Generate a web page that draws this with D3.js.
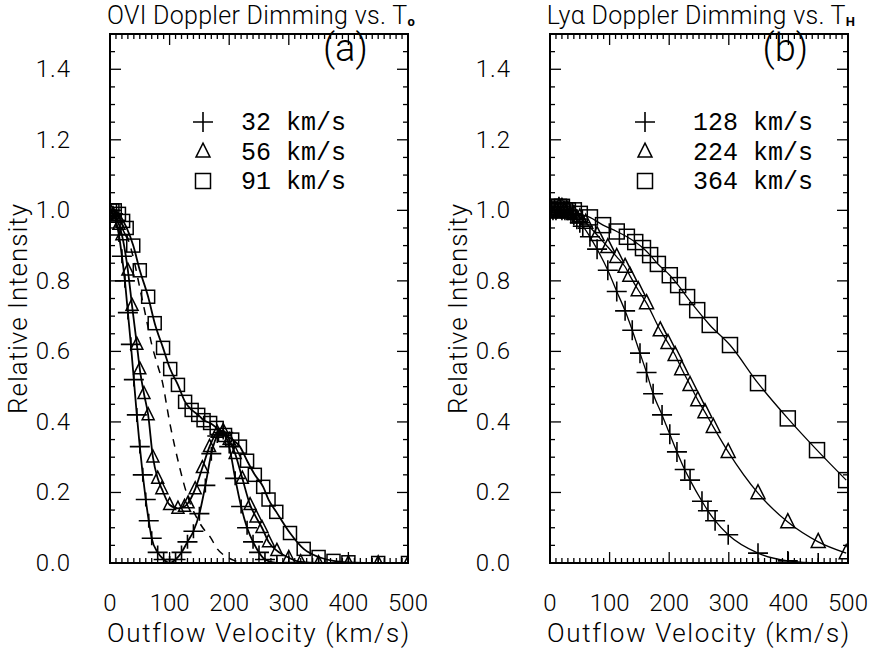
<!DOCTYPE html>
<html><head><meta charset="utf-8">
<script src="https://cdn.jsdelivr.net/npm/d3@7"></script>
<style>
html,body{margin:0;padding:0;background:#fff;}
svg{display:block;}
</style></head>
<body>
<svg id="chart" width="876" height="650"></svg>
<script>
// ---------------- DATA ----------------
const velocityTicks = [0, 100, 200, 300, 400, 500];
const intensityTicks = [0.0, 0.2, 0.4, 0.6, 0.8, 1.0, 1.2, 1.4];

// Panel (a): OVI, T_O thermal widths
const legendA = ["32 km/s", "56 km/s", "91 km/s"];
const aPlusV = [0, 5, 10, 15, 20, 25, 30, 35, 40, 45, 50, 55, 60, 65, 70, 80, 90, 100, 110, 120, 130, 140, 150, 160, 170, 180, 190, 200, 210, 220, 230, 240, 250, 260, 280, 300, 350, 400, 450, 500];
const aPlusI = [1.0, 0.99, 0.97, 0.93, 0.87, 0.80, 0.71, 0.62, 0.52, 0.42, 0.33, 0.25, 0.18, 0.12, 0.07, 0.03, 0.01, 0.0, 0.01, 0.03, 0.06, 0.09, 0.14, 0.22, 0.31, 0.36, 0.37, 0.33, 0.24, 0.16, 0.10, 0.06, 0.03, 0.01, 0.0, 0.0, 0.0, 0.0, 0.0, 0.0];
const aTriV = [0, 5, 10, 15, 20, 30, 37, 45, 50, 57, 64, 72, 80, 87, 100, 114, 125, 131, 143, 155, 167, 180, 190, 200, 210, 222, 235, 245, 255, 266, 280, 300, 320, 350, 400, 450, 500];
const aTriI = [1.0, 0.99, 0.98, 0.96, 0.93, 0.83, 0.73, 0.62, 0.55, 0.48, 0.42, 0.30, 0.24, 0.21, 0.165, 0.155, 0.16, 0.17, 0.21, 0.27, 0.33, 0.37, 0.375, 0.35, 0.31, 0.24, 0.165, 0.13, 0.10, 0.06, 0.035, 0.015, 0.003, 0.0, 0.0, 0.0, 0.0];
const aSqV = [0, 4, 8, 15, 22, 28, 39, 50, 64, 75, 89, 101, 114, 126, 137, 148, 157, 168, 179, 193, 205, 218, 230, 243, 257, 266, 279, 302, 325, 350, 375, 400, 450, 500];
const aSqI = [1.0, 1.0, 1.0, 0.99, 0.97, 0.95, 0.90, 0.83, 0.755, 0.68, 0.61, 0.55, 0.505, 0.457, 0.434, 0.42, 0.405, 0.397, 0.383, 0.363, 0.35, 0.33, 0.29, 0.25, 0.216, 0.18, 0.145, 0.085, 0.04, 0.017, 0.006, 0.002, 0.0, 0.0];
const aDashV = [0, 10, 20, 30, 40, 50, 60, 70, 80, 87, 100, 117, 130, 145, 160, 168, 180, 196, 210, 230, 260];
const aDashI = [1.0, 0.99, 0.96, 0.92, 0.86, 0.78, 0.70, 0.62, 0.56, 0.52, 0.40, 0.27, 0.19, 0.13, 0.09, 0.074, 0.04, 0.017, 0.006, 0.0, 0.0];

// Panel (b): Lyα, T_H thermal widths
const legendB = ["128 km/s", "224 km/s", "364 km/s"];
const bPlusV = [0, 5, 10, 15, 20, 25, 30, 35, 40, 45, 50, 55, 67, 79, 97, 112, 126, 138, 151, 162, 173, 188, 201, 213, 226, 235, 255, 265, 277, 299, 349, 399, 450, 500];
const bPlusI = [1.0, 1.0, 1.0, 1.01, 1.0, 1.0, 1.0, 0.99, 0.985, 0.975, 0.965, 0.955, 0.925, 0.89, 0.83, 0.77, 0.715, 0.66, 0.595, 0.54, 0.48, 0.42, 0.365, 0.315, 0.265, 0.235, 0.175, 0.148, 0.12, 0.08, 0.028, 0.006, 0.0, 0.0];
const bTriV = [0, 5, 10, 15, 20, 25, 30, 40, 50, 60, 79, 97, 112, 126, 134, 148, 162, 185, 198, 210, 221, 235, 248, 260, 274, 299, 349, 399, 450, 497];
const bTriI = [1.0, 1.0, 1.0, 1.01, 1.01, 1.0, 1.0, 0.99, 0.98, 0.965, 0.93, 0.896, 0.868, 0.84, 0.815, 0.774, 0.737, 0.66, 0.624, 0.59, 0.55, 0.505, 0.462, 0.428, 0.386, 0.315, 0.198, 0.116, 0.06, 0.028];
const bSqV = [0, 5, 10, 15, 20, 25, 30, 40, 50, 67, 89, 112, 129, 143, 156, 168, 181, 201, 215, 230, 247, 268, 302, 349, 399, 448, 497];
const bSqI = [1.0, 1.01, 1.0, 1.01, 1.01, 1.0, 1.0, 1.0, 0.99, 0.98, 0.958, 0.94, 0.925, 0.91, 0.893, 0.873, 0.848, 0.816, 0.788, 0.754, 0.717, 0.675, 0.618, 0.51, 0.41, 0.32, 0.235];

// ---------------- DRAW ----------------
const svg = d3.select("#chart");
const TOP = 34, BOTTOM = 563;
const labelFont = "Roboto,'Liberation Sans',sans-serif";
const titleFont = "Roboto,'Liberation Sans',sans-serif";
const monoFont = "'Liberation Mono','Courier New',monospace";

const zip = (vs, is) => vs.map((v, i) => ({v, i: is[i]}));

const panels = [
  {left: 110, right: 408, title: "OVI Doppler Dimming vs. T", sub: "o", tag: "(a)",
   legend: legendA, legendSymX: 203, legendTextX: 241,
   series: [
     {data: zip(aPlusV, aPlusI), sym: "plus"},
     {data: zip(aTriV, aTriI), sym: "tri"},
     {data: zip(aSqV, aSqI), sym: "sq"}
   ],
   dashed: zip(aDashV, aDashI), lw: 1.8},
  {left: 550, right: 848, title: "Lyα Doppler Dimming vs. T", sub: "H", tag: "(b)",
   legend: legendB, legendSymX: 645, legendTextX: 693,
   series: [
     {data: zip(bPlusV, bPlusI), sym: "plus"},
     {data: zip(bTriV, bTriI), sym: "tri"},
     {data: zip(bSqV, bSqI), sym: "sq"}
   ],
   dashed: null, lw: 1.3}
];

function drawSymbol(g, sym, x, y, big) {
  if (sym === "plus") {
    const hw = 10, hh = big ? 10 : 7;
    g.append("path").attr("d", `M${x-hw},${y}H${x+hw}M${x},${y-hh}V${y+hh}`)
      .attr("stroke", "#000").attr("stroke-width", 1.6).attr("fill", "none");
  } else if (sym === "tri") {
    const s = big ? 7 : 6;
    g.append("path").attr("d", `M${x},${y-s*1.2}L${x+s},${y+s*0.8}L${x-s},${y+s*0.8}Z`)
      .attr("stroke", "#000").attr("stroke-width", 1.5).attr("fill", "none");
  } else {
    const s = big ? 7.5 : 6.5;
    g.append("rect").attr("x", x-s).attr("y", y-s).attr("width", 2*s).attr("height", 2*s)
      .attr("stroke", "#000").attr("stroke-width", 1.5).attr("fill", "none");
  }
}

panels.forEach(p => {
  const x = d3.scaleLinear().domain([0, 500]).range([p.left, p.right]);
  const y = d3.scaleLinear().domain([0, 1.5]).range([BOTTOM, TOP]);
  const g = svg.append("g");

  const clipId = "clip" + p.left;
  svg.append("clipPath").attr("id", clipId).append("rect")
    .attr("x", p.left).attr("y", TOP).attr("width", p.right - p.left).attr("height", BOTTOM - TOP);

  g.append("rect").attr("x", p.left).attr("y", TOP).attr("width", p.right - p.left).attr("height", BOTTOM - TOP)
    .attr("fill", "none").attr("stroke", "#000").attr("stroke-width", 2);

  const xMinor = d3.range(0, 501, 10);
  const yMinor = d3.range(0, 1.501, 0.05);
  const tk = g.append("g").attr("stroke", "#000").attr("stroke-width", 1.3);
  xMinor.forEach(v => {
    const major = Math.abs(v % 100) < 1e-6;
    const L = major ? 11 : 5;
    tk.append("line").attr("x1", x(v)).attr("x2", x(v)).attr("y1", BOTTOM).attr("y2", BOTTOM - L);
    tk.append("line").attr("x1", x(v)).attr("x2", x(v)).attr("y1", TOP).attr("y2", TOP + L);
  });
  yMinor.forEach(v => {
    const major = Math.abs((v / 0.2) - Math.round(v / 0.2)) < 1e-6;
    const L = major ? 11 : 5;
    tk.append("line").attr("x1", p.left).attr("x2", p.left + L).attr("y1", y(v)).attr("y2", y(v));
    tk.append("line").attr("x1", p.right).attr("x2", p.right - L).attr("y1", y(v)).attr("y2", y(v));
  });

  g.append("g").selectAll("text").data(velocityTicks).join("text")
    .attr("x", d => x(d)).attr("y", 611).attr("text-anchor", "middle")
    .attr("font-family", labelFont).attr("font-weight", 300).attr("font-size", 24).text(d => d);
  g.append("g").selectAll("text").data(intensityTicks).join("text")
    .attr("x", p.left - 39).attr("y", d => y(d) + 8).attr("text-anchor", "end")
    .attr("font-family", labelFont).attr("font-weight", 300).attr("font-size", 24)
    .attr("letter-spacing", 1).text(d => d.toFixed(1));

  g.append("text").attr("x", (p.left + p.right) / 2).attr("y", 642).attr("text-anchor", "middle")
    .attr("font-family", labelFont).attr("font-weight", 300).attr("font-size", 26)
    .attr("letter-spacing", 1.6).text("Outflow Velocity (km/s)");
  g.append("text").attr("transform", `translate(${p.left - 83},${(TOP + BOTTOM) / 2 + 10}) rotate(-90)`)
    .attr("text-anchor", "middle").attr("font-family", labelFont).attr("font-weight", 300)
    .attr("font-size", 26).attr("letter-spacing", 1).text("Relative Intensity");

  const t = g.append("text").attr("x", (p.left + p.right) / 2 + 2).attr("y", 24).attr("text-anchor", "middle")
    .attr("font-family", titleFont).attr("font-weight", 300).attr("font-size", 25).attr("letter-spacing", 0.3);
  t.append("tspan").text(p.title);
  t.append("tspan").attr("font-size", 13).attr("dy", 2).attr("font-weight", "bold").text(p.sub);

  g.append("text").attr("x", x(0) + (p.right - p.left) * 0.79).attr("y", 61).attr("text-anchor", "middle")
    .attr("font-family", titleFont).attr("font-weight", 300).attr("font-size", 38).text(p.tag);

  const syms = ["plus", "tri", "sq"];
  p.legend.forEach((txt, i) => {
    const ly = 122 + i * 29.5;
    drawSymbol(g, syms[i], p.legendSymX, ly, true);
    g.append("text").attr("x", p.legendTextX).attr("y", ly + 8)
      .attr("font-family", monoFont).attr("font-size", 25).text(txt);
  });

  const dg = g.append("g").attr("clip-path", `url(#${clipId})`);
  const line = d3.line().x(d => x(d.v)).y(d => y(d.i)).curve(d3.curveMonotoneX);
  if (p.dashed) {
    dg.append("path").datum(p.dashed).attr("d", line).attr("fill", "none")
      .attr("stroke", "#000").attr("stroke-width", 1.5).attr("stroke-dasharray", "8,7");
  }
  p.series.forEach(s => {
    dg.append("path").datum(s.data).attr("d", line).attr("fill", "none")
      .attr("stroke", "#000").attr("stroke-width", p.lw);
    s.data.forEach(d => drawSymbol(dg, s.sym, x(d.v), y(d.i), p.left > 300));
  });
});
</script>
</body></html>
